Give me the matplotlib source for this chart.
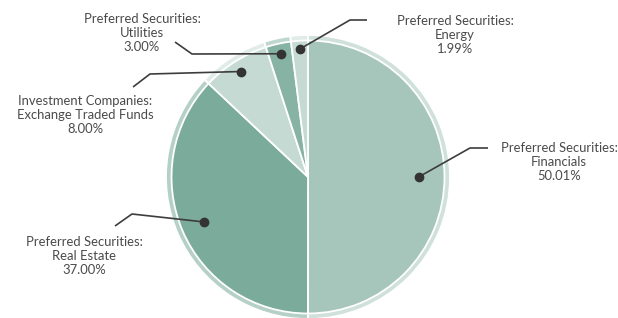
import numpy as np
import matplotlib.pyplot as plt

# slice data, clockwise from 12 o'clock
categories = ['Preferred Securities:\nFinancials',
              'Preferred Securities:\nReal Estate',
              'Investment Companies:\nExchange Traded Funds',
              'Preferred Securities:\nUtilities',
              'Preferred Securities:\nEnergy']
weights = [50.01, 37.00, 8.00, 3.00, 1.99]
pct_labels = ['50.01%', '37.00%', '8.00%', '3.00%', '1.99%']

main_colors = ['#a7c6bb', '#7aab9b', '#c6dad4', '#87b3a5', '#c6dad4']
ring_colors = ['#cfe1da', '#b5d0c7', '#e1ece8', '#c0d7cf', '#e1ece8']

# label layout (pixel coordinates, y measured from top)
dot_r = [0.81, 0.83, 0.915, 0.925, 0.94]
elbows = [[(470, 148), (488, 148)],
          [(132, 214), (115, 226)],
          [(150, 74), (133, 87)],
          [(192, 54), (175, 42)],
          [(350, 20), (367, 20)]]
text_pos = [(559, 162), (84, 256), (85, 115), (142, 33), (455, 35)]

W, H = 618, 318
cx, cy = 308, H - 177
r_out, r_in = 142, 136.5

fig = plt.figure(figsize=(W / 100, H / 100), dpi=100)
ax = fig.add_axes([0, 0, 1, 1])

ax.pie(weights, colors=ring_colors, startangle=90, counterclock=False,
       center=(cx, cy), radius=r_out, frame=True,
       wedgeprops=dict(edgecolor='white', linewidth=1.3))
ax.pie(weights, colors=main_colors, startangle=90, counterclock=False,
       center=(cx, cy), radius=r_in, frame=True,
       wedgeprops=dict(edgecolor='white', linewidth=1.3))
ax.set_xlim(0, W)
ax.set_ylim(0, H)
ax.set_aspect('equal')
ax.axis('off')

total = sum(weights)
start = 90.0
for i, w in enumerate(weights):
    sweep = w / total * 360
    mid = np.deg2rad(start - sweep / 2)
    start -= sweep
    dx = cx + dot_r[i] * r_in * np.cos(mid)
    dy = cy + dot_r[i] * r_in * np.sin(mid)
    xs = [dx] + [p[0] for p in elbows[i]]
    ys = [dy] + [H - p[1] for p in elbows[i]]
    ax.plot(xs, ys, color='#3d3d3d', lw=1.2, solid_capstyle='butt')
    ax.plot(dx, dy, 'o', color='#333333', ms=6)
    tx, ty = text_pos[i]
    ax.text(tx, H - ty, categories[i] + '\n' + pct_labels[i],
            ha='center', va='center', fontsize=9.4, family='Lato',
            color='#4a4a4a', linespacing=1.22)

fig.savefig('out.png', dpi=100)
